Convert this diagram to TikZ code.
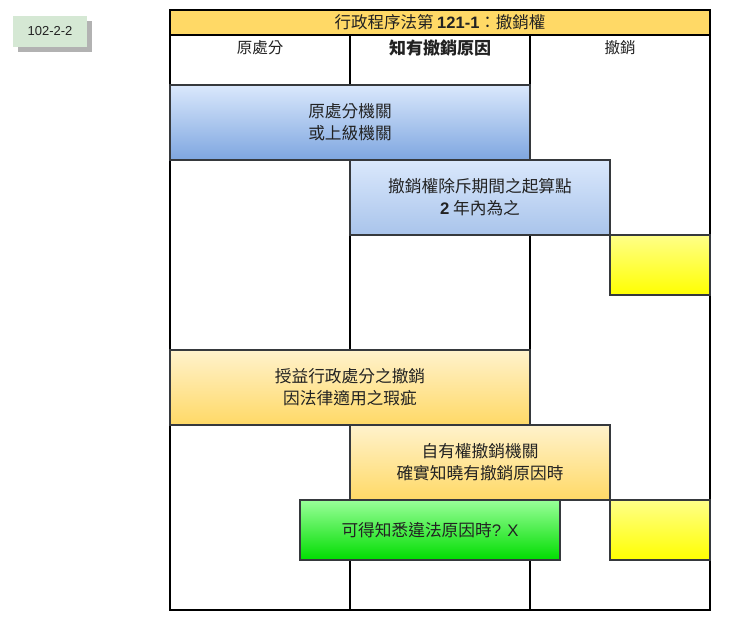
\documentclass[tikz,border=0pt]{standalone}
\usepackage{fontspec}
\setmainfont{Noto Sans CJK TC}
\newfontfamily\lat{Liberation Sans}
\usetikzlibrary{shadows}
\definecolor{txt}{HTML}{222222}
\definecolor{boxline}{HTML}{36393D}
\definecolor{titlefill}{HTML}{FFD966}
\definecolor{tagfill}{HTML}{D5E8D4}
\definecolor{blueA}{HTML}{DAE8FC}
\definecolor{blueB}{HTML}{7EA6E0}
\definecolor{blueC}{HTML}{A9C4EB}
\definecolor{orA}{HTML}{FFF2CC}
\definecolor{orB}{HTML}{FFD966}
\definecolor{yeA}{HTML}{FFFF88}
\definecolor{yeB}{HTML}{FFFF00}
\definecolor{grA}{HTML}{99FF99}
\definecolor{grB}{HTML}{00DD00}
\begin{document}
\begin{tikzpicture}[x=1pt,y=-1pt,
  lane/.style={draw=black, line width=1.6pt, anchor=north west, outer sep=0pt, inner sep=0pt, minimum width=180, minimum height=575},
  hdr/.style={text=txt, font=\fontsize{15.5}{19}\selectfont, inner sep=0pt},
  box/.style={draw=boxline, line width=1.4pt, anchor=north west, outer sep=0pt, inner sep=0pt, align=center, text=txt, font=\fontsize{16.7}{22}\selectfont},
  bluebox/.style={box, top color=blueA, bottom color=blueB},
  bluebox2/.style={box, top color=blueA, bottom color=blueC},
  orbox/.style={box, top color=orA, bottom color=orB},
  yebox/.style={box, top color=yeA, bottom color=yeB},
  grbox/.style={box, top color=grA, bottom color=grB}]
\useasboundingbox (0,0) rectangle (732,630);
% tag
\node[draw=none, fill=tagfill, anchor=north west, minimum width=74, minimum height=31, inner sep=0pt, outer sep=0pt,
  drop shadow={shadow xshift=5pt, shadow yshift=-5pt, fill=black!30, opacity=1},
  font=\lat\fontsize{13}{15}\selectfont, text=txt] (tag) at (13,16) {102-2-2};
% lanes
\node[lane] (lane1) at (170,35) {};
\node[lane] (lane2) at (350,35) {};
\node[lane] (lane3) at (530,35) {};
\node[draw=black, line width=1.6pt, fill=titlefill, anchor=north west, outer sep=0pt, inner sep=0pt, minimum width=540, minimum height=25,
  text=txt, font=\fontsize{16.5}{19}\selectfont] (title) at (170,10) {行政程序法第 {\lat\bfseries 121-1}：撤銷權};
\node[hdr] (h1) at (260,48) {原處分};
\node[hdr, font=\fontsize{17}{19}\selectfont\bfseries] (h2) at (440,48) {知有撤銷原因};
\node[hdr] (h3) at (620,48) {撤銷};
% boxes
\node[bluebox, minimum width=360, minimum height=75] (b1) at (170,85) {原處分機關\\或上級機關};
\node[bluebox2, minimum width=260, minimum height=75] (b2) at (350,160) {撤銷權除斥期間之起算點\\{\lat\bfseries 2} 年內為之};
\node[yebox, minimum width=100, minimum height=60] (y1) at (610,235) {};
\node[orbox, minimum width=360, minimum height=75] (o1) at (170,350) {授益行政處分之撤銷\\因法律適用之瑕疵};
\node[orbox, minimum width=260, minimum height=75] (o2) at (350,425) {自有權撤銷機關\\確實知曉有撤銷原因時};
\node[grbox, minimum width=260, minimum height=60] (g1) at (300,500) {可得知悉違法原因時{\lat ? X}};
\node[yebox, minimum width=100, minimum height=60] (y2) at (610,500) {};
\end{tikzpicture}
\end{document}
